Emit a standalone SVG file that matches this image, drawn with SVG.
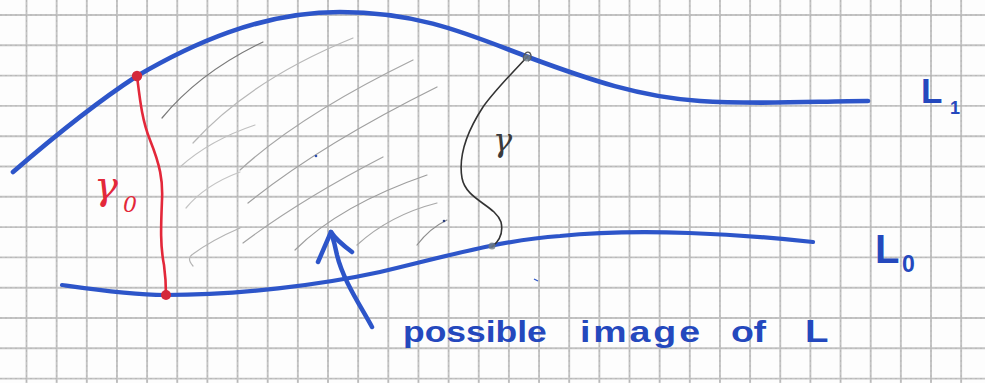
<svg xmlns="http://www.w3.org/2000/svg" width="985" height="383" viewBox="0 0 985 383">
<style>
.grid{fill:none;stroke:#c4c4c4;stroke-width:1.9}
.gridfine{fill:none;stroke:#a6a6a6;stroke-width:0.6;stroke-dasharray:2 3;opacity:0.7}
.pen{fill:none;stroke:#2d55c9;stroke-linecap:round;stroke-linejoin:round}
.hatch{fill:none;stroke-width:1.2;stroke-linecap:round}
.hand{font-family:"Liberation Sans","DejaVu Sans",sans-serif;font-weight:bold}
.greek{font-family:"DejaVu Serif","Liberation Serif",serif;font-style:italic}
</style>
<rect width="985" height="383" fill="#fdfdfd"/>
<g id="grid">
<path class="grid" d="M26.5,0V383M56.65,0V383M86.8,0V383M116.95,0V383M147.1,0V383M177.25,0V383M207.4,0V383M237.55,0V383M267.7,0V383M297.85,0V383M328,0V383M358.15,0V383M388.3,0V383M418.45,0V383M448.6,0V383M478.75,0V383M508.9,0V383M539.05,0V383M569.2,0V383M599.35,0V383M629.5,0V383M659.65,0V383M689.8,0V383M719.95,0V383M750.1,0V383M780.25,0V383M810.4,0V383M840.55,0V383M870.7,0V383M900.85,0V383M931,0V383M961.15,0V383M0,15H985M0,45.3H985M0,75.6H985M0,105.9H985M0,136.2H985M0,166.5H985M0,196.8H985M0,227.1H985M0,257.4H985M0,287.7H985M0,318H985M0,348.3H985M0,378.6H985"/>
<path class="gridfine" d="M26.5,0V383M56.65,0V383M86.8,0V383M116.95,0V383M147.1,0V383M177.25,0V383M207.4,0V383M237.55,0V383M267.7,0V383M297.85,0V383M328,0V383M358.15,0V383M388.3,0V383M418.45,0V383M448.6,0V383M478.75,0V383M508.9,0V383M539.05,0V383M569.2,0V383M599.35,0V383M629.5,0V383M659.65,0V383M689.8,0V383M719.95,0V383M750.1,0V383M780.25,0V383M810.4,0V383M840.55,0V383M870.7,0V383M900.85,0V383M931,0V383M961.15,0V383M0,15H985M0,45.3H985M0,75.6H985M0,105.9H985M0,136.2H985M0,166.5H985M0,196.8H985M0,227.1H985M0,257.4H985M0,287.7H985M0,318H985M0,348.3H985M0,378.6H985"/>
</g>
<g id="hatching">
<path class="hatch" stroke="#7a7a7a" d="M162,118 Q200,72 263,42"/>
<path class="hatch" stroke="#b8b8b8" d="M193,143 Q250,80 353,38"/>
<path class="hatch" stroke="#c0c0c0" d="M180,167 Q210,140 255,125"/>
<path class="hatch" stroke="#a6a6a6" d="M240,170 Q300,115 413,60"/>
<path class="hatch" stroke="#c4c4c4" d="M186,208 Q205,185 240,172"/>
<path class="hatch" stroke="#a0a0a0" d="M248,203 Q320,145 437,87"/>
<path class="hatch" stroke="#b4b4b4" d="M193,266 Q186,258 193,254 Q212,240 240,228"/>
<path class="hatch" stroke="#a4a4a4" d="M243,243 Q300,200 383,157"/>
<path class="hatch" stroke="#9e9e9e" d="M295,250 Q340,205 427,175"/>
<path class="hatch" stroke="#a8a8a8" d="M357,245 Q390,215 437,203"/>
<path class="hatch" stroke="#8e8e8e" d="M417,245 Q430,228 447,220"/>
<circle cx="316" cy="156" r="1.3" fill="#2d4fb0"/>
<circle cx="444" cy="221" r="1.3" fill="#2d3f80"/>
<path d="M534,279 L538,281" stroke="#2d55c9" stroke-width="1.3"/>
</g>
<g id="L1">
<path class="pen" stroke-width="4.6" d="M13,172 C50,140 100,100 137,76 C190,45 260,12 340,12 C420,12 470,35 528,57 C590,80 640,97 700,101 C760,105 820,101 868,101"/>
<text class="hand" x="921" y="103" font-size="35" fill="#2448bd">L</text>
<text class="hand" x="950" y="114" font-size="18" fill="#2448bd">1</text>
</g>
<g id="L0">
<path class="pen" stroke-width="4.2" d="M62,285 C90,289 130,295 165,295 C240,295 320,285 380,272 C440,258 500,240 560,236 C640,228 740,234 813,242"/>
<text class="hand" x="875" y="263" font-size="40" fill="#2448bd">L</text>
<text class="hand" x="902" y="272" font-size="23" fill="#2448bd">0</text>
</g>
<g id="gamma0">
<path fill="none" stroke="#e3283a" stroke-width="2.6" stroke-linecap="round" d="M137,76 C140,100 142,120 150,140 C160,165 163,180 162,200 C161,225 160,245 164,265 C166,280 166,290 166,295"/>
<circle cx="137" cy="76" r="5.2" fill="#d4293a"/>
<circle cx="166" cy="295" r="5" fill="#d4293a"/>
<text class="greek" x="94" y="199" font-size="40" fill="#e3283a">γ</text>
<text class="greek" x="123" y="212" font-size="22" fill="#e3283a">0</text>
</g>
<g id="gamma">
<path fill="none" stroke="#333" stroke-width="1.6" stroke-linecap="round" d="M528,56 C515,70 495,90 483,107 C468,130 458,155 462,178 C466,200 495,205 501,222 C504,235 497,243 492,247"/>
<path fill="none" stroke="#555" stroke-width="1.4" d="M524,61 C522,55 527,50 530,53 C532,56 531,60 528,61"/>
<circle cx="527" cy="58" r="3.5" fill="#6f7c86" opacity="0.8"/>
<circle cx="492" cy="246" r="3.5" fill="#6f7c86" opacity="0.8"/>
<text class="greek" x="493" y="151" font-size="32" fill="#3a3a3a">γ</text>
</g>
<g id="connectors">
<path class="pen" stroke="#2648bb" stroke-width="4.5" d="M372,327 C360,305 343,280 337,255 C335,245 333,238 331,232"/>
<path class="pen" stroke="#2648bb" stroke-width="4.5" d="M318,262 L331,232 C336,240 344,246 352,252"/>
</g>
<g id="caption" fill="#2448bd" font-size="30">
<text class="hand" transform="translate(403,342) scale(1.25,1)" textLength="115" lengthAdjust="spacingAndGlyphs">possible</text>
<text class="hand" transform="translate(580,342) scale(1.25,1)" textLength="96" lengthAdjust="spacing">image</text>
<text class="hand" transform="translate(731,342) scale(1.25,1)" textLength="28" lengthAdjust="spacing">of</text>
<text class="hand" transform="translate(805,342) scale(1.2,1)" font-size="32">L</text>
</g>
</svg>
